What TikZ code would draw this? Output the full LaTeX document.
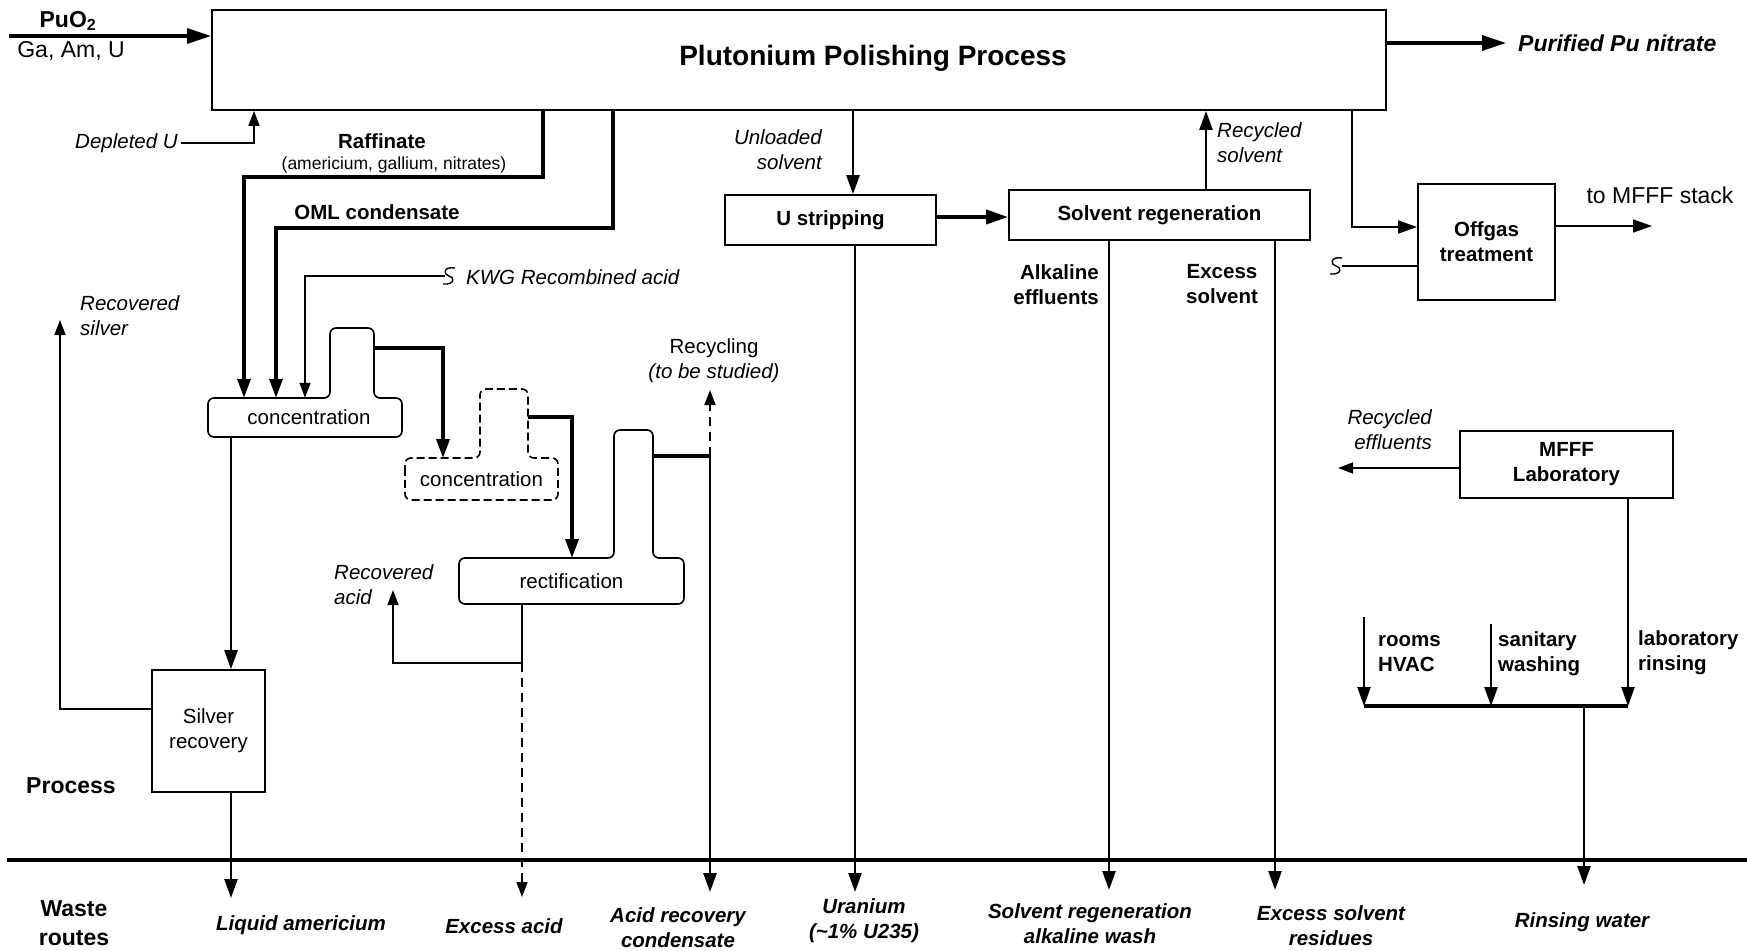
\documentclass[tikz,border=0pt]{standalone}
\usepackage{fontspec}
\setmainfont{Liberation Sans}
\usetikzlibrary{arrows.meta}
\newcommand\fsz{\fontsize{20.5}{25}\selectfont}
\newcommand\fbig{\fontsize{23}{29}\selectfont}
\begin{document}
\begin{tikzpicture}[x=1pt,y=-1pt,
  box/.style={draw, line width=1.8pt, inner sep=0pt, align=center, font=\fsz\bfseries},
  lab/.style={inner sep=0pt, align=center, font=\fsz},
  ilab/.style={inner sep=0pt, align=center, font=\fsz\itshape},
  blab/.style={inner sep=0pt, align=center, font=\fsz\bfseries},
  wlab/.style={inner sep=0pt, align=center, font=\fsz\bfseries\itshape},
  vessel/.style={line width=1.6pt, rounded corners=6pt},
  heavy/.style={line width=3.4pt},
  medium/.style={line width=2.5pt},
  light/.style={line width=1.5pt},
  longdash/.style={dash pattern=on 9pt off 6pt},
  bigtip/.style={-{Triangle[length=24pt,width=15pt]}},
  midtip/.style={-{Triangle[length=19pt,width=13pt]}},
  smalltip/.style={-{Triangle[length=15pt,width=11pt]}},
  brk/.pic={\draw[line width=1.4pt] (6,-8) .. controls (-6,-10) and (-6,-1) .. (0,0) .. controls (6,1) and (6,9) .. (-6,8);}
]
\useasboundingbox (0,0) rectangle (1747,950);

% ---------- main process block ----------
\node[draw, line width=1.8pt, inner sep=0pt, minimum width=1174pt, minimum height=100pt] (main) at (799,60) {};
\node[inner sep=0pt, font=\fontsize{28}{34}\selectfont\bfseries] (title) at (873,58) {Plutonium Polishing Process};

% feed and product
\coordinate (feed) at (9,36);
\draw[heavy, bigtip] (feed) -- (feed -| main.west);
\node[inner sep=0pt, font=\fbig\bfseries] (puo) at (68,21) {PuO\textsubscript{2}};
\node[inner sep=0pt, font=\fbig] (feedmix) at (71,51) {Ga, Am, U};
\coordinate (prod) at (1506,43);
\draw[heavy, bigtip] (prod -| main.east) -- (prod);
\node[inner sep=0pt, anchor=west, font=\fbig\bfseries\itshape] (pu) at (1518,43) {Purified Pu nitrate};

% depleted uranium feed
\node[ilab, anchor=east] (depU) at (178,143) {Depleted U};
\coordinate (depc) at (254,143);
\draw[light, smalltip] ([xshift=3pt]depU.east) -- (depc) -- (depc |- main.south);

% ---------- acid recovery train ----------
\node[lab, minimum width=194pt, minimum height=39pt] (conc1) at (309,417.5) {concentration};
\draw[vessel] (208,417) -- (208,398) -- (330,398) -- (330,328) -- (374,328) -- (374,398) -- (402,398) -- (402,437) -- (208,437) -- cycle;

\node[lab, minimum width=153pt, minimum height=42pt] (conc2) at (481.5,479) {concentration};
\draw[vessel, dash pattern=on 8pt off 4pt] (405,479) -- (405,458) -- (480,458) -- (480,389) -- (528,389) -- (528,458) -- (558,458) -- (558,500) -- (405,500) -- cycle;

\node[lab, minimum width=225pt, minimum height=46pt] (rect) at (571.5,581) {rectification};
\draw[vessel] (459,581) -- (459,558) -- (614,558) -- (614,430) -- (653,430) -- (653,558) -- (684,558) -- (684,604) -- (459,604) -- cycle;

% raffinate
\coordinate (raf1) at (543,177);
\coordinate (raf2) at (244,177);
\draw[heavy, midtip] (raf1 |- main.south) -- (raf1) -- (raf2) -- (raf2 |- conc1.north);
\node[blab] (raflab) at (382,141) {Raffinate};
\node[inner sep=0pt, font=\fontsize{17.5}{21}\selectfont] (rafsub) at (394,165) {(americium, gallium, nitrates)};

% OML condensate
\coordinate (oml1) at (613,228);
\coordinate (oml2) at (276,228);
\draw[heavy, midtip] (oml1 |- main.south) -- (oml1) -- (oml2) -- (oml2 |- conc1.north);
\node[blab] (omllab) at (377,212) {OML condensate};

% KWG recombined acid
\coordinate (kwg1) at (445,276);
\coordinate (kwg2) at (305,276);
\draw[light, smalltip] (kwg1) -- (kwg2) -- (kwg2 |- conc1.north);
\pic at (449,276) {brk};
\node[ilab, anchor=west] (kwglab) at (466,277) {KWG Recombined acid};

% vessel overheads
\coordinate (c1out) at (374,348);
\coordinate (c2in) at (443,458);
\draw[heavy, midtip] (c1out) -| (c2in);
\coordinate (c2out) at (528,417);
\coordinate (rin) at (572,558);
\draw[heavy, midtip] (c2out) -| (rin);
\coordinate (rout) at (653,456);
\coordinate (rsplit) at (710,456);
\coordinate (acidw) at (710,892);
\coordinate (recyc) at (710,390);
\draw[heavy] (rout) -- (rsplit);
\draw[line width=2.8pt, midtip] (rsplit) -- (acidw);
\draw[light, longdash, smalltip] (rsplit) -- (recyc);
\node[lab] (recyclab) at (714,361) {Recycling\\\itshape(to be studied)};

% rectification bottoms
\coordinate (rb) at (522,663);
\coordinate (rbl) at (393,663);
\coordinate (racid) at (393,590);
\coordinate (exacid) at (522,897);
\draw[light, smalltip] (rb |- rect.south) -- (rb) -- (rbl) -- (racid);
\draw[light, longdash, smalltip] (rb) -- (exacid);
\node[ilab, anchor=west, align=left] (racidlab) at (334,585) {Recovered\\acid};

% silver recovery
\node[box, font=\fsz, minimum width=113pt, minimum height=122pt] (silver) at (208.5,731) {Silver\\recovery};
\coordinate (agx) at (231,0);
\draw[medium, midtip] (agx |- conc1.south) -- (agx |- silver.north);
\coordinate (amw) at (231,898);
\draw[medium, midtip] (amw |- silver.south) -- (amw);
\coordinate (sil1) at (60,709);
\coordinate (sil2) at (60,320);
\draw[light, smalltip] (silver.west |- sil1) -- (sil1) -- (sil2);
\node[ilab, anchor=west, align=left] (rsilv) at (80,315.5) {Recovered\\silver};

% ---------- solvent loop ----------
\node[box, minimum width=211pt, minimum height=50pt] (ustrip) at (830.5,220) {U stripping};
\node[box, minimum width=301pt, minimum height=50pt] (sreg) at (1159.5,215) {Solvent regeneration};
\coordinate (usx) at (853,0);
\draw[medium, midtip] (usx |- main.south) -- (usx |- ustrip.north);
\node[ilab, anchor=east, align=right] (unl) at (822,149.5) {Unloaded\\solvent};
\coordinate (u2s) at (936,217);
\draw[line width=3.8pt, -{Triangle[length=22pt,width=14pt]}] (u2s) -- (u2s -| sreg.west);
\coordinate (uw) at (855,892);
\draw[medium, midtip] (uw |- ustrip.south) -- (uw);
\coordinate (rsx) at (1206,0);
\draw[medium, midtip] (rsx |- sreg.north) -- (rsx |- main.south);
\node[ilab, anchor=west, align=left] (rsolv) at (1217,142.5) {Recycled\\solvent};
\coordinate (alw) at (1109,890);
\draw[medium, midtip] (alw |- sreg.south) -- (alw);
\node[blab, anchor=east, align=right] (alk) at (1099,284.5) {Alkaline\\effluents};
\coordinate (exw) at (1275,890);
\draw[medium, midtip] (exw |- sreg.south) -- (exw);
\node[blab] (exs) at (1222,284.5) {Excess\\solvent};

% ---------- offgas ----------
\node[box, minimum width=137pt, minimum height=116pt] (offgas) at (1486.5,242) {Offgas\\treatment};
\coordinate (og1) at (1352,227);
\draw[light, midtip] (og1 |- main.south) -- (og1) -- (og1 -| offgas.west);
\coordinate (stack) at (1652,226);
\draw[light, midtip] (stack -| offgas.east) -- (stack);
\node[inner sep=0pt, font=\fbig] (stacklab) at (1660,195) {to MFFF stack};
\coordinate (ogl) at (1342,266);
\draw[light] (ogl -| offgas.west) -- (ogl);
\pic at (1336,266) {brk};

% ---------- laboratory ----------
\node[box, minimum width=213pt, minimum height=67pt] (lab) at (1566.5,464.5) {MFFF\\Laboratory};
\coordinate (reff) at (1338,468);
\draw[light, smalltip] (reff -| lab.west) -- (reff);
\node[ilab, anchor=east, align=right] (refflab) at (1432,430) {Recycled\\effluents};
\coordinate (colL) at (1364,706);
\coordinate (colM) at (1491,706);
\coordinate (colR) at (1628,706);
\coordinate (hvac) at (1364,617);
\coordinate (sanit) at (1491,624);
\draw[medium, midtip] (colR |- lab.south) -- (colR);
\draw[medium, midtip] (hvac) -- (colL);
\draw[medium, midtip] (sanit) -- (colM);
\draw[heavy] (colL) -- (colR);
\coordinate (rwx) at (1584,706);
\coordinate (rw) at (1584,885);
\draw[medium, midtip] (rwx) -- (rw);
\node[blab, anchor=west, align=left] (hvaclab) at (1378,653.5) {rooms\\HVAC};
\node[blab, anchor=west, align=left] (sanlab) at (1498,653.5) {sanitary\\washing};
\node[blab, anchor=west, align=left] (lrlab) at (1638,652.5) {laboratory\\rinsing};

% ---------- process / waste boundary ----------
\coordinate (sepL) at (7,860);
\coordinate (sepR) at (1747,860);
\draw[line width=3.8pt] (sepL) -- (sepR);
\node[inner sep=0pt, font=\fbig\bfseries] (proc) at (71,786) {Process};
\node[inner sep=0pt, align=center, font=\fbig\bfseries] (wr) at (74,923) {Waste\\routes};

% waste route labels
\node[wlab] (w1) at (301,925) {Liquid americium};
\node[wlab] (w2) at (504,926) {Excess acid};
\node[wlab] (w3) at (678,928) {Acid recovery\\condensate};
\node[wlab] (w4) at (864,921) {Uranium\\(\textasciitilde1\% U235)};
\node[wlab] (w5) at (1090,923.5) {Solvent regeneration\\alkaline wash};
\node[wlab] (w6) at (1331,925.5) {Excess solvent\\residues};
\node[wlab] (w7) at (1582,922) {Rinsing water};
\end{tikzpicture}
\end{document}
